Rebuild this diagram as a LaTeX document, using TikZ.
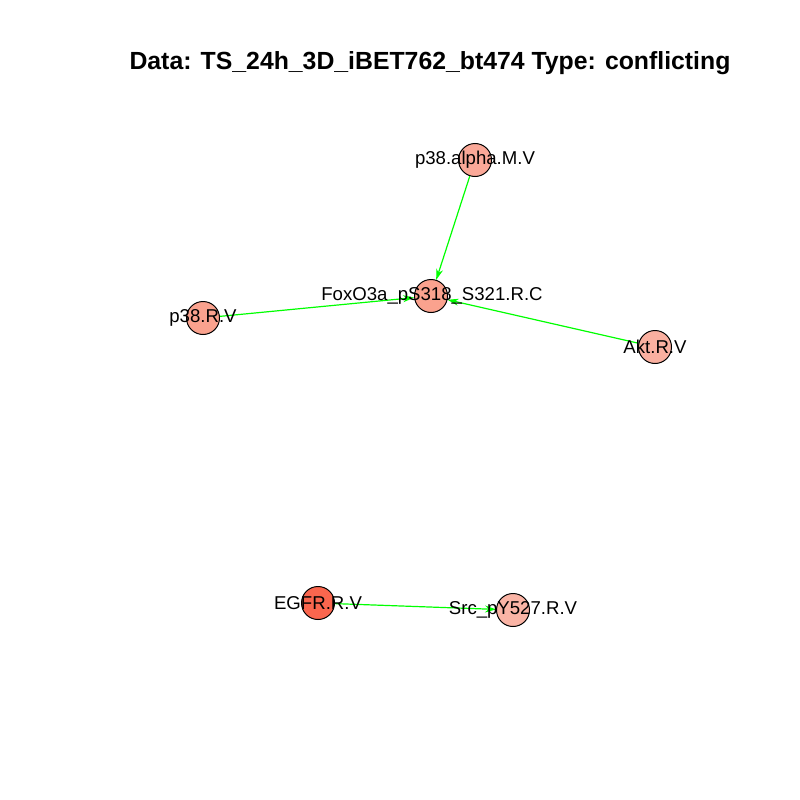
\documentclass[tikz,border=0pt]{standalone}
\usepackage{fontspec}
\setmainfont{Liberation Sans}
\usetikzlibrary{arrows.meta}
\definecolor{cA}{RGB}{250,162,142}
\definecolor{cB}{RGB}{250,168,152}
\definecolor{cC}{RGB}{250,176,160}
\definecolor{cD}{RGB}{250,102,78}
\definecolor{cE}{RGB}{250,180,165}
\definecolor{edgegreen}{RGB}{0,255,0}
\tikzset{
  vtx/.style={circle,draw=black,line width=1pt,minimum size=33pt,inner sep=0pt},
  lbl/.style={font=\fontsize{18.6}{19}\selectfont,inner sep=0pt,text=black},
  edge/.style={draw=edgegreen,line width=1.2pt,-{Stealth[length=11pt,width=7pt]}}
}
\begin{document}
\begin{tikzpicture}[x=1pt,y=-1pt]
\useasboundingbox[fill=white] (0,0) rectangle (800,800);
\node[font=\bfseries\fontsize{24.8}{26}\selectfont] (title) at (430,63) {Data: TS\_24h\_3D\_iBET762\_bt474 Type: conflicting};
\node[vtx,fill=cB] (alpha) at (475,160) {};
\node[vtx,fill=cA] (fox) at (431,296) {};
\node[vtx,fill=cA] (p38) at (203,318) {};
\node[vtx,fill=cC] (akt) at (655,347) {};
\node[vtx,fill=cD] (egfr) at (318,603) {};
\node[vtx,fill=cE] (src) at (513,610) {};
\draw[edge] (alpha) -- (fox);
\draw[edge] (p38) -- (fox);
\draw[edge] (akt) -- (fox);
\draw[edge] (egfr) -- (src);
\node[lbl] (lalpha) at (475,160) {p38.alpha.M.V};
\node[lbl] (lfox) at (432,296) {FoxO3a\_pS318\_S321.R.C};
\node[lbl] (lp38) at (203,318) {p38.R.V};
\node[lbl] (lakt) at (655,347) {Akt.R.V};
\node[lbl] (legfr) at (318,603) {EGFR.R.V};
\node[lbl] (lsrc) at (513,610) {Src\_pY527.R.V};
\end{tikzpicture}
\end{document}
